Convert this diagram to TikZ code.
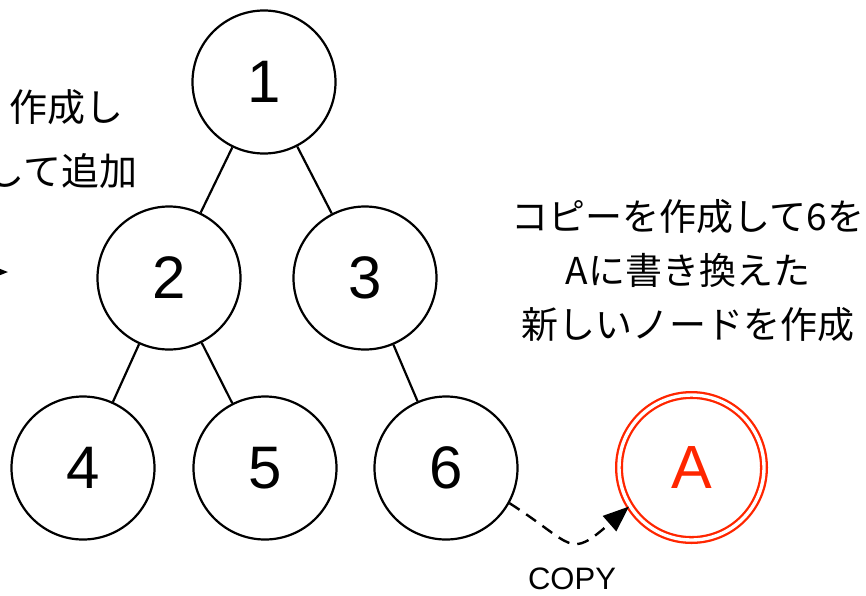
\documentclass[tikz,border=0pt]{standalone}
\usepackage{fontspec}
\setmainfont{Liberation Sans}
\newfontfamily\jp{Noto Sans CJK JP}
\usetikzlibrary{arrows.meta}
\definecolor{myred}{RGB}{255,38,0}
\begin{document}
\begin{tikzpicture}[x=1pt,y=-1pt,
  treenode/.style={circle,draw,line width=2.2pt,minimum size=143pt,inner sep=0pt,
    font=\fontsize{60}{60}\selectfont},
  newnode/.style={circle,draw=myred,text=myred,line width=2.3pt,double=white,
    double distance=3.4pt,minimum size=145pt,inner sep=0pt,
    font=\fontsize{61}{61}\selectfont},
  edge/.style={line width=2.2pt},
  copyarrow/.style={line width=2.4pt,dashed,dash pattern=on 12pt off 8pt,
    -{Triangle[length=26pt,width=20pt]}},
  leftarrow/.style={line width=2.4pt,-{Triangle[length=26pt,width=20pt]}},
  jptext/.style={font=\jp\fontsize{37}{54}\selectfont,inner sep=0pt},
  ljptext/.style={font=\jp\fontsize{38}{64}\selectfont,inner sep=0pt},
  lbl/.style={font=\fontsize{31}{31}\selectfont,inner sep=0pt}]
\useasboundingbox (0,0) rectangle (866,595);
\node[treenode] (n1) at (264,82) {1};
\node[treenode] (n2) at (169,278) {2};
\node[treenode] (n3) at (365,278) {3};
\node[treenode] (n4) at (83,468) {4};
\node[treenode] (n5) at (265,468) {5};
\node[treenode] (n6) at (446,468) {6};
\node[newnode] (nA) at (691.5,467.5) {A};
\draw[edge] (n1) -- (n2);
\draw[edge] (n1) -- (n3);
\draw[edge] (n2) -- (n4);
\draw[edge] (n2) -- (n5);
\draw[edge] (n3) -- (n6);
\draw[copyarrow] (n6.-29) .. controls (575,545) and (568,560) .. (nA.-148);
\node[lbl] (copy) at (572,579) {COPY};
\node[jptext,align=center] (note) at (688,271) {コピーを作成して6を\\Aに書き換えた\\新しいノードを作成};
\node[ljptext,anchor=east] (l1) at (124,107) {作成し};
\node[ljptext,anchor=east] (l2) at (138,171) {して追加};
\coordinate (ls) at (-40,272);
\coordinate (le) at (8,272);
\draw[leftarrow] (ls) -- (le);
\end{tikzpicture}
\end{document}
